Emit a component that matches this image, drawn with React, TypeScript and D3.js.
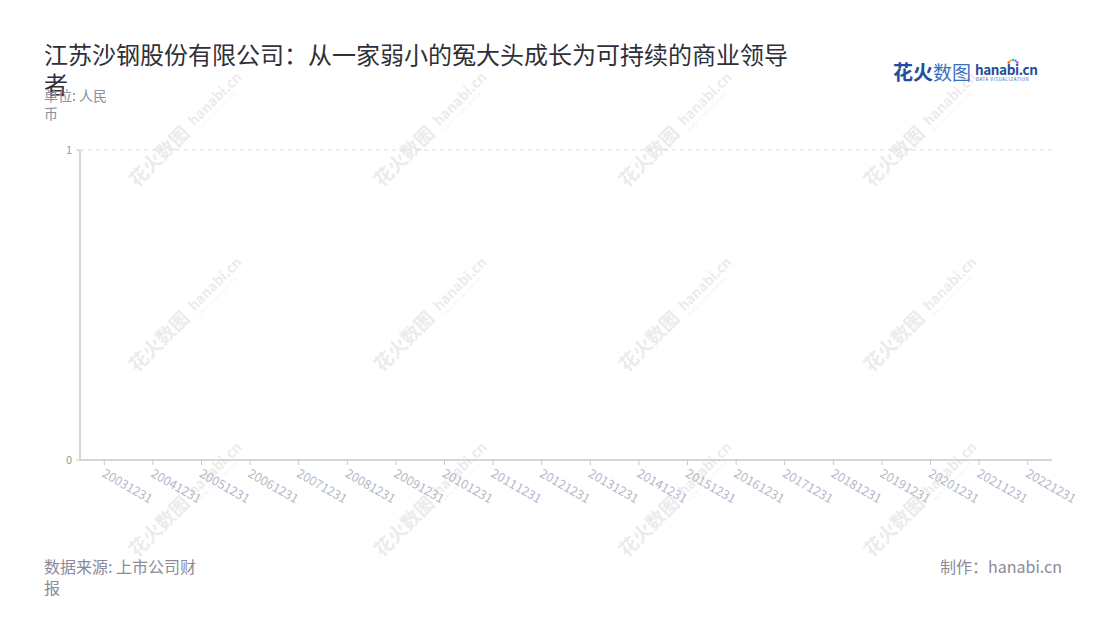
import React from "react";
import * as d3 from "d3";

const categories = [
  "20031231","20041231","20051231","20061231","20071231","20081231","20091231",
  "20101231","20111231","20121231","20131231","20141231","20151231","20161231",
  "20171231","20181231","20191231","20201231","20211231","20221231",
];
const values: (number | null)[] = categories.map(() => null);
const yTicks = [0, 1];
const title1 = "江苏沙钢股份有限公司：从一家弱小的冤大头成长为可持续的商业领导";
const title2 = "者";
const unitLines = ["单位: 人民", "币"];
const sourceLines = ["数据来源: 上市公司财", "报"];
const credit = "制作：hanabi.cn";

const W = 1100, H = 620;
const m = { left: 80, right: 1052, top: 150, bottom: 460 };
const FONT = "'Noto Sans CJK SC', 'Noto Sans', sans-serif";

function Watermark({ x, y }: { x: number; y: number }) {
  return (
    <g transform={`translate(${x},${y}) rotate(-45)`} opacity={0.075} fontFamily={FONT}>
      <text x={0} y={0} fontSize={19} fontWeight={700} fill="#000">花火数图</text>
      <text x={84} y={-3} fontSize={14} fontWeight={700} fill="#000">hanabi.cn</text>
      <text x={85} y={4} fontSize={4} fill="#000" letterSpacing={0.8}>DATA VISUALIZATION</text>
    </g>
  );
}

export default function App() {
  const x = d3.scaleBand<string>().domain(categories).range([m.left, m.right]);
  const y = d3.scaleLinear().domain([0, 1]).range([m.bottom, m.top]);
  const wmX = [137, 382, 627, 872];
  const wmY = [188, 373, 558];
  return (
    <svg width={W} height={H} style={{ position: "absolute", left: 0, top: 0, background: "#fff" }} fontFamily={FONT}>
      <rect width={W} height={H} fill="#fff" />
      {wmY.map((wy) => wmX.map((wx) => <Watermark key={`${wx}-${wy}`} x={wx} y={wy} />))}
      <text x={44} y={64} fontSize={24} fill="#2f2f3a">{title1}</text>
      <text x={44} y={94} fontSize={24} fill="#2f2f3a">{title2}</text>
      {unitLines.map((t, i) => (
        <text key={t} x={44} y={101 + i * 18} fontSize={14} fill="#8e8e9c">{t}</text>
      ))}
      {/* logo */}
      <g fontFamily={FONT}>
        <text x={893} y={80} fontSize={20} fontWeight={700} fill="#1f4e9c">花火</text>
        <text x={933} y={80} fontSize={19} fill="#3a6fc0">数图</text>
        <text x={975} y={75} fontSize={13.5} fontWeight={700} fill="#1f4e9c" letterSpacing={-0.4}>hanabi.cn</text>
        <text x={976} y={81} fontSize={4.2} fill="#1f4e9c" letterSpacing={0.7}>DATA VISUALIZATION</text>
        {["#f44", "#fa0", "#4c4", "#29f", "#a4f"].map((c, i) => (
          <circle key={c} cx={1013 + Math.cos((-150 + i * 30) * Math.PI / 180) * 5} cy={65 + Math.sin((-150 + i * 30) * Math.PI / 180) * 5} r={1.2} fill={c} />
        ))}
      </g>
      {/* grid */}
      {yTicks.filter((t) => t !== 0).map((t) => (
        <line key={t} x1={m.left} x2={m.right} y1={y(t)} y2={y(t)} stroke="#dcdcdc" strokeDasharray="4,4" />
      ))}
      {/* y axis */}
      <line x1={m.left} x2={m.left} y1={m.top} y2={m.bottom} stroke="#c8c8c8" strokeWidth={1.5} />
      {yTicks.map((t) => (
        <g key={t}>
          <line x1={m.left - 4} x2={m.left} y1={y(t)} y2={y(t)} stroke="#c8c8c8" />
          <text x={m.left - 8} y={y(t)} dy="0.35em" textAnchor="end" fontSize={11} fill="#999">{t}</text>
        </g>
      ))}
      {/* x axis */}
      <line x1={m.left} x2={m.right} y1={m.bottom} y2={m.bottom} stroke="#c8c8c8" strokeWidth={1.5} />
      {categories.map((c) => {
        const cx = (x(c) as number) + x.bandwidth() / 2;
        return (
          <g key={c}>
            <line x1={cx} x2={cx} y1={m.bottom} y2={m.bottom + 5} stroke="#c8c8c8" />
            <text transform={`translate(${cx - 3},${m.bottom + 16}) rotate(30)`} fontSize={12.5} fill="#b4b9c8">{c}</text>
          </g>
        );
      })}
      {values.map((v, i) =>
        v == null ? null : (
          <rect key={i} x={x(categories[i])} y={y(v)} width={x.bandwidth()} height={m.bottom - y(v)} fill="#4a7bd0" />
        )
      )}
      {sourceLines.map((t, i) => (
        <text key={t} x={44} y={573 + i * 21} fontSize={16} fill="#8a8a9a">{t}</text>
      ))}
      <text x={1062} y={573} textAnchor="end" fontSize={16} fill="#8a8a9a">{credit}</text>
    </svg>
  );
}
